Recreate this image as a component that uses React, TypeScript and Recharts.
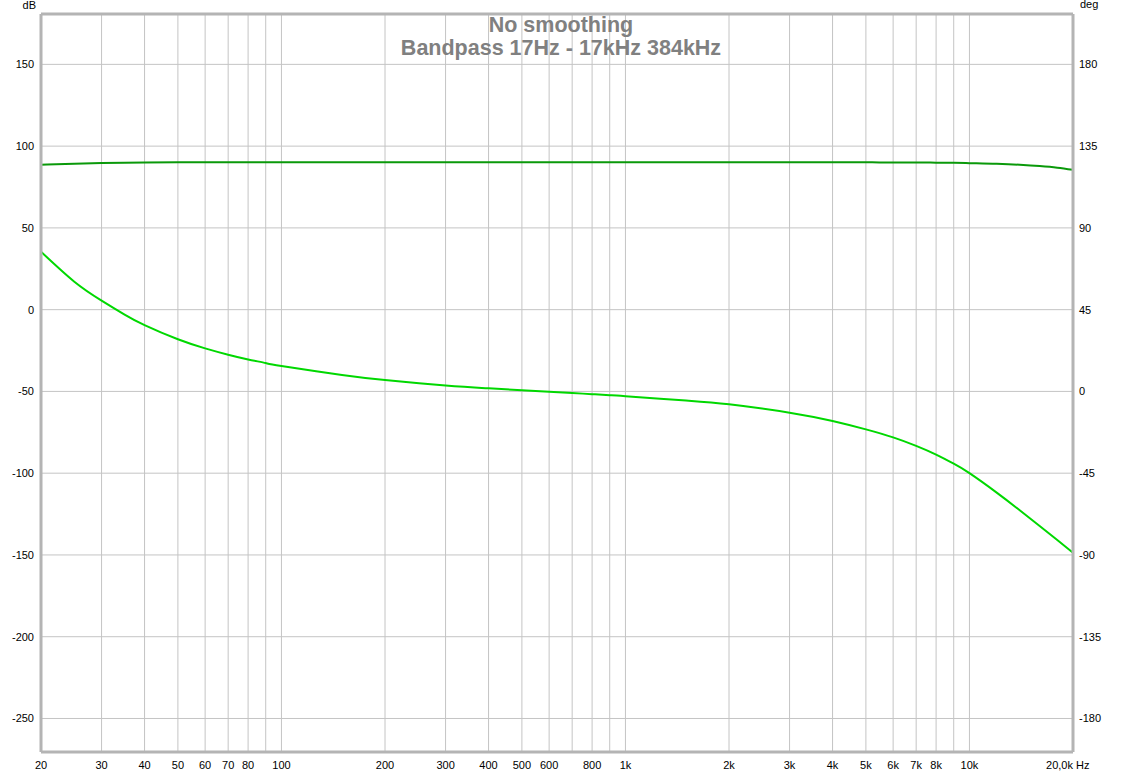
import React from "react"
import { LineChart, Line, XAxis, YAxis, CartesianGrid, ReferenceLine } from "recharts"

// frequency points (Hz) the curves were read at
const freqs = [
  20, 25, 30, 35, 40, 50, 60, 70, 80, 90, 100, 150, 200, 300, 400, 500, 600, 700, 800, 900,
  1000, 1500, 2000, 3000, 4000, 5000, 6000, 7000, 8000, 9000, 10000, 12000, 14000, 16000, 18000, 20000,
]

// magnitude, dB (left axis)
const magnitude = [
  88.6, 89.3, 89.7, 89.9, 90.0, 90.1, 90.1, 90.1, 90.1, 90.1, 90.1, 90.1, 90.1, 90.1, 90.1, 90.1, 90.1, 90.1, 90.1, 90.1,
  90.1, 90.1, 90.1, 90.1, 90.1, 90.1, 90.0, 90.0, 89.9, 89.8, 89.6, 89.2, 88.6, 87.8, 86.8, 85.5,
]

// phase, deg (right axis)
const phase = [
  76.9, 60.4, 50.0, 42.3, 36.5, 28.7, 23.7, 20.2, 17.6, 15.6, 14.0, 9.1, 6.3, 3.3, 1.7, 0.6, -0.2, -0.9, -1.5, -2.1,
  -2.6, -5.0, -7.1, -11.7, -16.3, -20.9, -25.3, -30.0, -34.8, -39.8, -45.0, -55.7, -65.4, -74.1, -81.8, -88.8,
]

const gridFreqs = [
  20, 30, 40, 50, 60, 70, 80, 90, 100, 200, 300, 400, 500, 600, 700, 800, 900,
  1000, 2000, 3000, 4000, 5000, 6000, 7000, 8000, 9000, 10000, 20000,
]
const freqLabels: Record<number, string> = {
  20: "20", 30: "30", 40: "40", 50: "50", 60: "60", 70: "70", 80: "80", 100: "100",
  200: "200", 300: "300", 400: "400", 500: "500", 600: "600", 800: "800", 1000: "1k",
  2000: "2k", 3000: "3k", 4000: "4k", 5000: "5k", 6000: "6k", 7000: "7k", 8000: "8k",
  10000: "10k", 20000: "20,0k",
}
const dbTicks = [150, 100, 50, 0, -50, -100, -150, -200, -250]
const degTicks = [180, 135, 90, 45, 0, -45, -90, -135, -180]

const dbDomain = [-270.5, 180.8]
const degDomain = [-198.45, 207.72]

const magData = freqs.map((f, i) => ({ f, v: magnitude[i] }))
const phaseData = freqs.map((f, i) => ({ f, v: phase[i] }))

const font = "'Liberation Sans', Arial, sans-serif"
const frame = "#b4b4b4"

const FreqTick = (props: any) => {
  const { x, y, payload } = props
  const lbl = freqLabels[payload.value]
  if (!lbl) return null
  if (payload.value === 20000) {
    return (
      <g>
        <text x={x} y={y + 15} textAnchor="end" fontSize={11} fill="#000" fontFamily={font}>{lbl}</text>
        <text x={x + 3} y={y + 15} textAnchor="start" fontSize={11} fill="#000" fontFamily={font}>Hz</text>
      </g>
    )
  }
  return (
    <text x={x} y={y + 15} textAnchor="middle" fontSize={11} fill="#000" fontFamily={font}>{lbl}</text>
  )
}

const LeftTick = (props: any) => {
  const { x, y, payload } = props
  return (
    <text x={x - 5} y={y + 4} textAnchor="end" fontSize={11} fill="#000" fontFamily={font}>{payload.value}</text>
  )
}

const RightTick = (props: any) => {
  const { x, y, payload } = props
  return (
    <text x={x + 4} y={y + 4} textAnchor="start" fontSize={11} fill="#000" fontFamily={font}>{payload.value}</text>
  )
}

export default function App() {
  return (
    <div style={{ position: "absolute", left: 0, top: 0, width: 1123, height: 772, background: "#fff", fontFamily: font }}>
      <LineChart width={1123} height={772} margin={{ top: 14, right: 0, bottom: 0, left: 0 }}>
        <CartesianGrid stroke="#c4c4c4" strokeWidth={1} yAxisId="left" />
        <XAxis
          dataKey="f"
          type="number"
          scale="log"
          domain={[20, 20000]}
          ticks={gridFreqs}
          interval={0}
          allowDataOverflow
          height={20}
          tickLine={false}
          tickSize={0}
          axisLine={{ stroke: frame, strokeWidth: 3 }}
          tick={<FreqTick />}
        />
        <YAxis
          yAxisId="left"
          orientation="left"
          width={41}
          domain={dbDomain}
          ticks={dbTicks}
          interval={0}
          allowDataOverflow
          tickLine={false}
          tickSize={0}
          axisLine={{ stroke: frame, strokeWidth: 3 }}
          tick={<LeftTick />}
        />
        <YAxis
          yAxisId="right"
          orientation="right"
          width={50}
          domain={degDomain}
          ticks={degTicks}
          interval={0}
          allowDataOverflow
          tickLine={false}
          tickSize={0}
          axisLine={{ stroke: frame, strokeWidth: 3 }}
          tick={<RightTick />}
        />
        <ReferenceLine yAxisId="left" y={dbDomain[1]} stroke={frame} strokeWidth={3} ifOverflow="visible" />
        <Line
          yAxisId="left"
          data={magData}
          dataKey="v"
          type="monotone"
          stroke="#0a990a"
          strokeWidth={2}
          dot={false}
          isAnimationActive={false}
        />
        <Line
          yAxisId="right"
          data={phaseData}
          dataKey="v"
          type="natural"
          stroke="#00d800"
          strokeWidth={2}
          dot={false}
          isAnimationActive={false}
        />
      </LineChart>
      <div style={{ position: "absolute", left: 0, top: -1, width: 36, textAlign: "right", fontSize: 11, color: "#000" }}>dB</div>
      <div style={{ position: "absolute", left: 1080, top: -2, fontSize: 11, color: "#000" }}>deg</div>
      <div
        style={{
          position: "absolute",
          left: 361,
          top: 14,
          width: 400,
          textAlign: "center",
          fontSize: 21.5,
          lineHeight: "23px",
          fontWeight: "bold",
          color: "#808080",
        }}
      >
        <div>No smoothing</div>
        <div>Bandpass 17Hz - 17kHz 384kHz</div>
      </div>
    </div>
  )
}
